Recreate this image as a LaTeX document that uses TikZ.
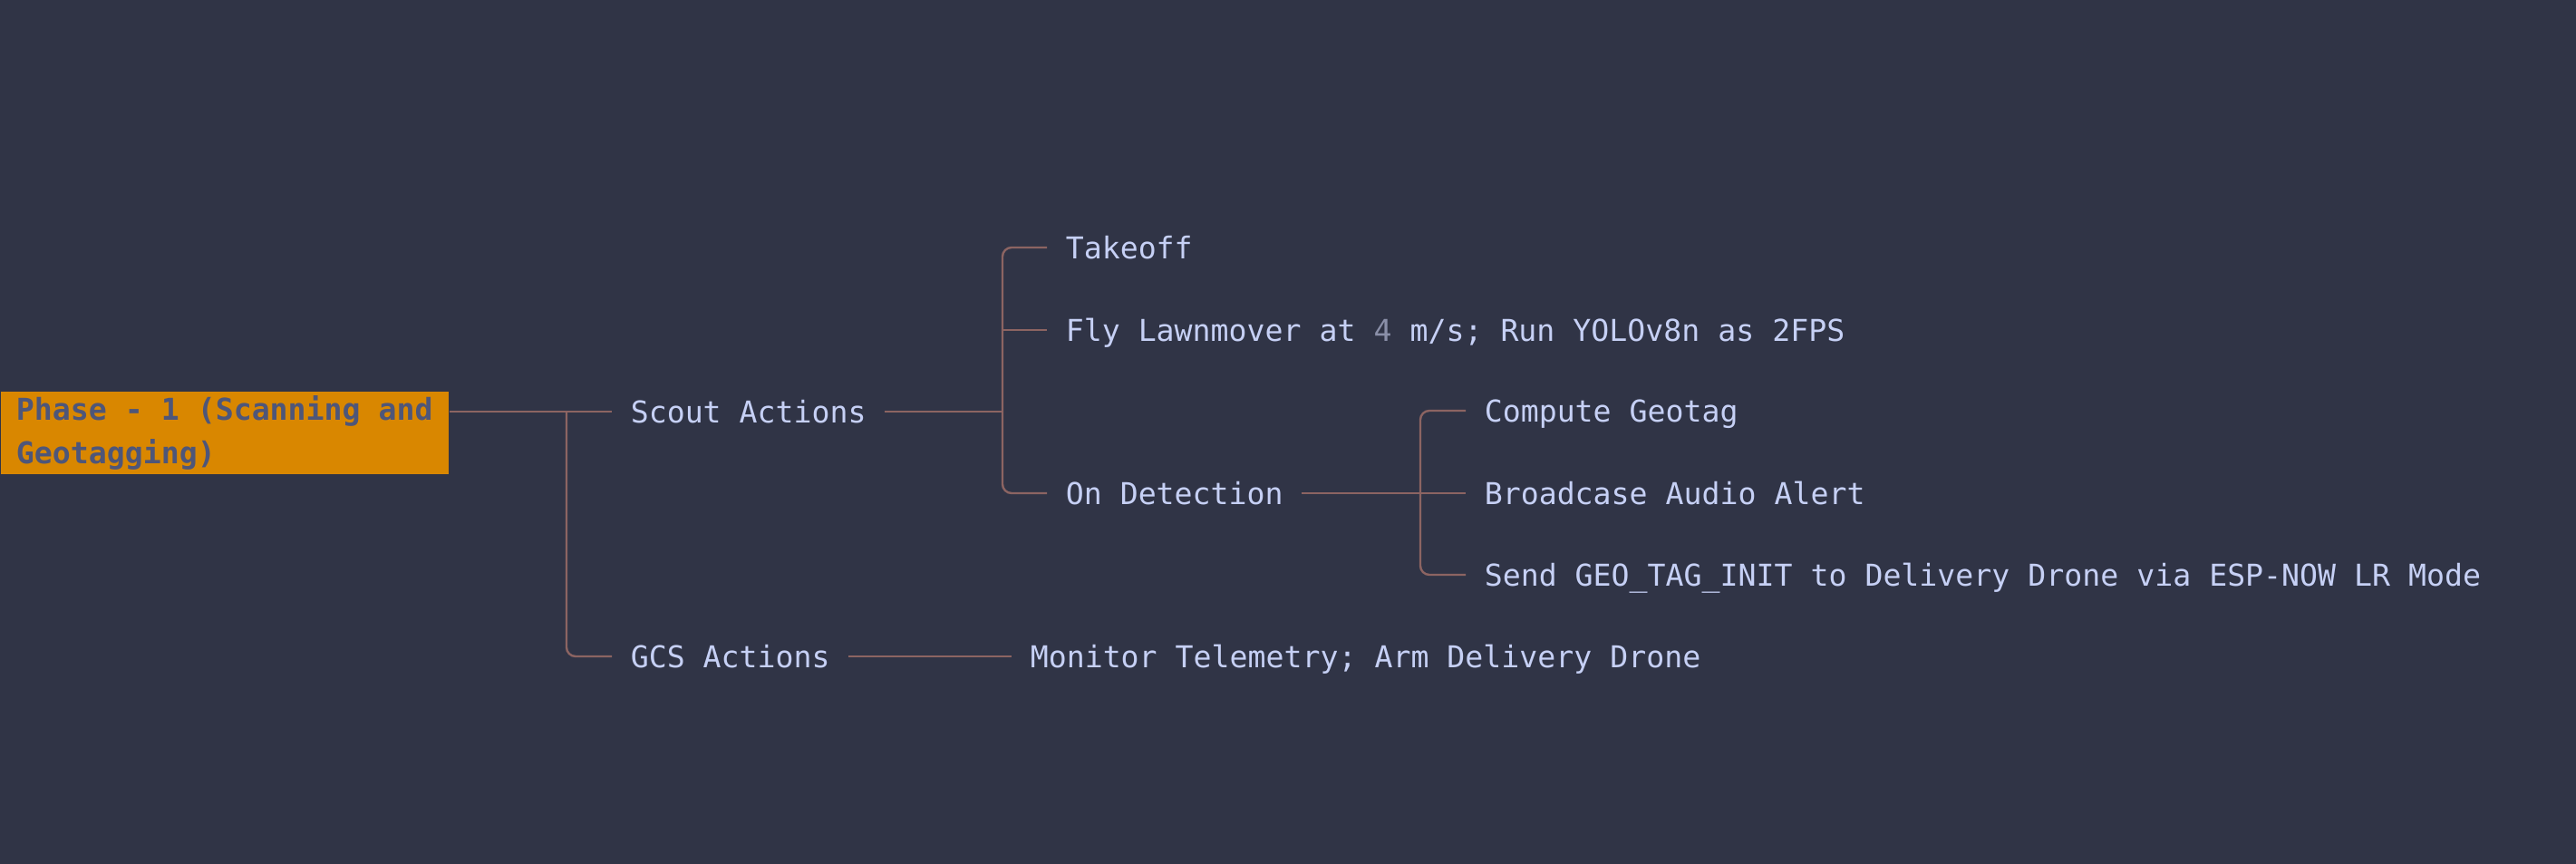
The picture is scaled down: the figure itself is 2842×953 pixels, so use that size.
\documentclass[tikz,border=0pt]{standalone}
\usepackage{fontspec}
\setmonofont{DejaVu Sans Mono}
\usepackage{tikz}

\definecolor{bgcol}{HTML}{303446}
\definecolor{txtcol}{HTML}{C6D0F5}
\definecolor{dimcol}{HTML}{8A8FA8}
\definecolor{linecol}{HTML}{8C6462}
\definecolor{phasecol}{HTML}{D98700}
\definecolor{phasetxt}{HTML}{4E5679}

\newcommand\phasefont{\ttfamily\bfseries\fontsize{8.3pt}{11.6pt}\selectfont}

\begin{document}
\begin{tikzpicture}[x=0.25pt,y=-0.25pt]
  \def\r{2.5pt}

\tikzstyle{item}=[anchor=west,font=\ttfamily\fontsize{8.3pt}{11.25pt}\selectfont,text=txtcol,inner xsep=5pt,inner ysep=0pt,text height=6pt,text depth=0pt]
\tikzstyle{phase}=[anchor=north west,fill=phasecol,text=phasetxt,font=\phasefont,align=left,inner xsep=3.5pt,inner ysep=0pt,minimum width=123.5pt,minimum height=22.75pt]
\tikzstyle{branch}=[draw=linecol,line width=0.6pt,rounded corners=\r]

\fill[bgcol] (0,0) rectangle (2842,953);

\node[phase] (P0) at (0,431) {Phase - 1 (Scanning and\\[0.4pt]Geotagging)\hspace*{12\fontcharwd\font`a}\hspace*{-1.5pt}};
\node[item] (P1) at (675,454) {Scout Actions};
\node[item] (P2) at (675,724) {GCS Actions};
\coordinate (J1) at (625,454);
\draw[branch] (P0.east |- P1.west) -- (P1.west);
\draw[branch] (J1) |- (P2.west);

\node[item] (P3) at (1155,273) {Takeoff};
\node[item] (P4) at (1155,364) {Fly Lawnmover at {\color{dimcol}4} m/s; Run YOLOv8n as 2FPS};
\node[item] (P5) at (1155,544) {On Detection};
\coordinate (J2) at (1106,454);
\draw[branch] (P1.east) -- (J2);
\draw[branch] (P3.west) -| (J2) |- (P5.west);
\draw[branch] (J2 |- P4.west) -- (P4.west);

\node[item] (P6) at (1617,453) {Compute Geotag};
\node[item] (P7) at (1617,544) {Broadcase Audio Alert};
\node[item] (P8) at (1617,634) {Send GEO\_TAG\_INIT to Delivery Drone via ESP-NOW LR Mode};
\coordinate (J3) at (1567,544);
\draw[branch] (P5.east) -- (P7.west);
\draw[branch] (P6.west) -| (J3) |- (P8.west);

\node[item] (P9) at (1116,724) {Monitor Telemetry; Arm Delivery Drone};
\draw[branch] (P2.east) -- (P9.west);
\end{tikzpicture}
\end{document}
